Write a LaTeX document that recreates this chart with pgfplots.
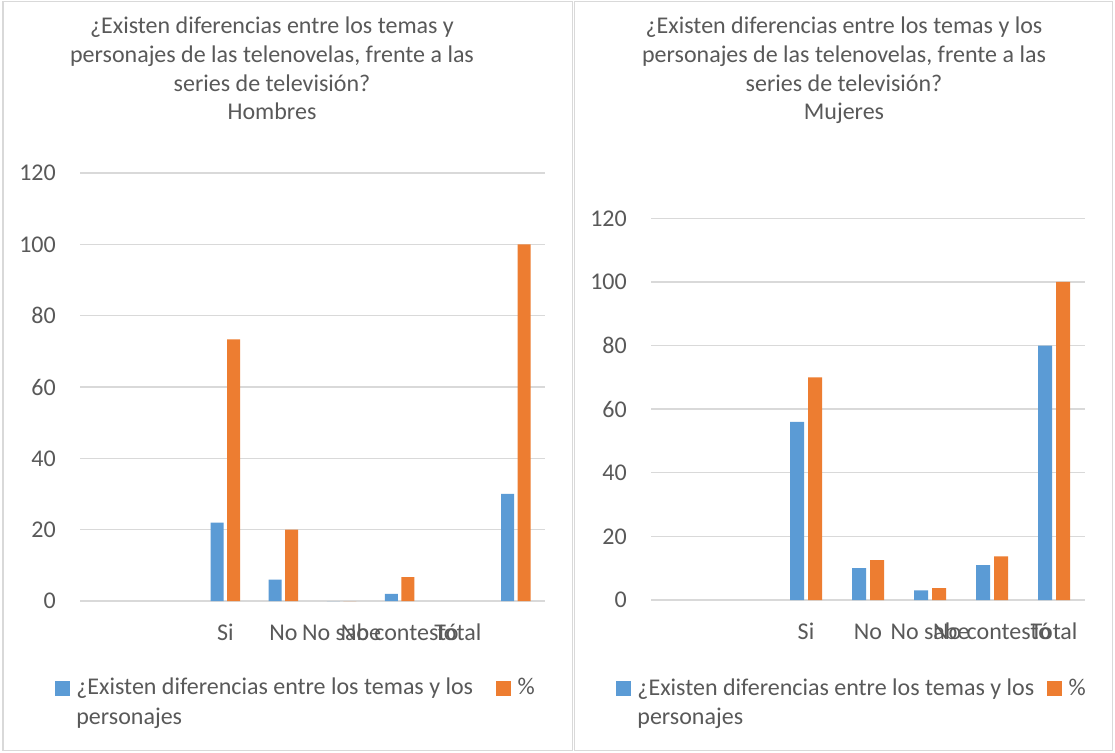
\documentclass[border=0pt]{standalone}
\usepackage{pgfplots}
\pgfplotsset{compat=1.18}
\usepackage{fontspec}
\setmainfont{Carlito}
\definecolor{blueE}{HTML}{5B9BD5}
\definecolor{orangeE}{HTML}{ED7D31}
\definecolor{gridE}{HTML}{D9D9D9}
\definecolor{txtE}{HTML}{595959}
\definecolor{borderE}{HTML}{D9D9D9}
\newcommand\fE{\fontsize{24pt}{29.3pt}\selectfont}
\pgfplotsset{
  excelbase/.style={
    scale only axis,
    anchor=south west,
    ymin=0, ymax=120, ytick={0,20,...,120},
    ymajorgrids,
    grid style={gridE, line width=1.3pt},
    axis line style={draw=none},
    major tick length=0pt,
    tick label style={font=\fE, text=txtE},
    /pgf/number format/assume math mode=true,
    yticklabel style={anchor=east, inner sep=0pt, xshift=-24pt},
    xticklabel style={anchor=base, inner sep=0pt, yshift=-39pt},
    xtick={2.5,3.5,4.5,5.5,6.5},
    xticklabels={Si,No,No sabe,No contestó,Total},
    legend columns=2,
    legend style={draw=none, fill=none, inner sep=0pt, outer sep=0pt,
      font=\fE, text=txtE, anchor=north west,
      cells={anchor=base west, inner sep=0pt},
      /tikz/every odd column/.style={column sep=5pt},
    },
  }
}
\begin{document}
\begin{tikzpicture}
\useasboundingbox (0pt,0pt) rectangle (1115pt,752pt);
\fill[white] (0pt,0pt) rectangle (1115pt,752pt);
\draw[borderE, line width=1.5pt] (2.75pt,1.5pt) rectangle (572.25pt,750.5pt);
\draw[borderE, line width=1.5pt] (574.25pt,1.5pt) rectangle (1112.5pt,750.5pt);
% titles
\begin{scope}[every node/.style={anchor=base, font=\fE, text=txtE, inner sep=0pt}]
\node at (272pt,718pt) {¿Existen diferencias entre los temas y};
\node at (272pt,689.2pt) {personajes de las telenovelas, frente a las};
\node at (272pt,660.5pt) {series de televisión?};
\node at (272pt,632pt) {Hombres};
\node at (844pt,718pt) {¿Existen diferencias entre los temas y los};
\node at (844pt,689.2pt) {personajes de las telenovelas, frente a las};
\node at (844pt,660.5pt) {series de televisión?};
\node at (844pt,632pt) {Mujeres};
\end{scope}
% Hombres
\begin{axis}[excelbase, at={(80pt,151pt)}, width=465pt, height=428pt, xmin=0, xmax=8,
  legend style={at={(-0.0538,-0.167)}, /tikz/every even column/.style={column sep=21pt}}]
\addplot[ybar, bar width=13pt, bar shift=-8.25pt, fill=blueE, draw=none, forget plot]
  coordinates {(2.5,22) (3.5,6) (4.5,0) (5.5,2) (7.5,30)};
\addplot[ybar, bar width=13pt, bar shift=8.25pt, fill=orangeE, draw=none, forget plot]
  coordinates {(2.5,73.33) (3.5,20) (4.5,0) (5.5,6.67) (7.5,100)};
\addlegendimage{legend image code/.code={\fill[blueE] (0pt,0pt) rectangle (14pt,14pt);}}
\addlegendentry{\begin{tabular}[t]{@{}l@{}}¿Existen diferencias entre los temas y los\\personajes\end{tabular}}
\addlegendimage{legend image code/.code={\fill[orangeE] (0pt,0pt) rectangle (14pt,14pt);}}
\addlegendentry{\%}
\end{axis}
% Mujeres
\begin{axis}[excelbase, at={(651pt,152pt)}, width=434pt, height=381.7pt, xmin=0, xmax=7,
  legend style={at={(-0.0806,-0.190)}, /tikz/every even column/.style={column sep=11pt}}]
\addplot[ybar, bar width=14pt, bar shift=-9pt, fill=blueE, draw=none, forget plot]
  coordinates {(2.5,56) (3.5,10) (4.5,3) (5.5,11) (6.5,80)};
\addplot[ybar, bar width=14pt, bar shift=9pt, fill=orangeE, draw=none, forget plot]
  coordinates {(2.5,70) (3.5,12.5) (4.5,3.75) (5.5,13.75) (6.5,100)};
\addlegendimage{legend image code/.code={\fill[blueE] (0pt,0pt) rectangle (14pt,14pt);}}
\addlegendentry{\begin{tabular}[t]{@{}l@{}}¿Existen diferencias entre los temas y los\\personajes\end{tabular}}
\addlegendimage{legend image code/.code={\fill[orangeE] (0pt,0pt) rectangle (14pt,14pt);}}
\addlegendentry{\%}
\end{axis}
\end{tikzpicture}
\end{document}
